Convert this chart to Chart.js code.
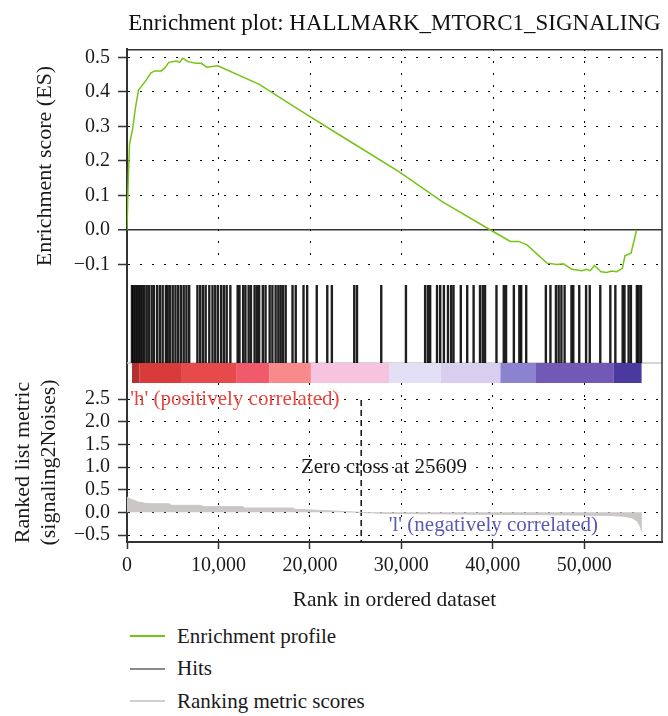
<!DOCTYPE html>
<html>
<head>
<meta charset="utf-8">
<title>Enrichment plot: HALLMARK_MTORC1_SIGNALING</title>
<script src="https://cdn.jsdelivr.net/npm/chart.js@4.4.1/dist/chart.umd.min.js"></script>
<style>
  body { margin: 0; background: #fff; }
  #plot { position: relative; width: 668px; height: 716px; overflow: hidden; }
  .panel { position: absolute; left: 0; }
  #esPanel { top: 0; }
  #hitsPanel { top: 283px; }
  #rankPanel { top: 343px; }
  #legend {
    position: absolute;
    left: 130px;
    top: 620px;
    font-family: "Liberation Serif", "Times New Roman", serif;
    font-size: 21px;
    color: #1a1a1a;
  }
  .legend-row { display: flex; align-items: center; height: 32.5px; }
  .legend-row .swatch { width: 35px; height: 2px; margin-right: 12px; }
</style>
</head>
<body>
<div id="plot">
  <div class="panel" id="esPanel"><canvas id="esChart" width="668" height="283"></canvas></div>
  <div class="panel" id="hitsPanel"><canvas id="hitsChart" width="668" height="100"></canvas></div>
  <div class="panel" id="rankPanel"><canvas id="rankChart" width="668" height="277"></canvas></div>
  <div id="legend"></div>
</div>
<script>
const rankTicks = [0, 10000, 20000, 30000, 40000, 50000]
const esTicks = [-0.1, 0, 0.1, 0.2, 0.3, 0.4, 0.5]
const metricTicks = [-0.5, 0, 0.5, 1, 1.5, 2, 2.5]

// running enrichment score along the ranked list
const esRanks = [0, 150, 280, 600, 900, 1250, 2115, 2600, 3020, 3750, 4110, 4580, 5390, 5750, 6110, 6650, 7570, 8110, 8720, 9920, 14470, 18830, 24000, 29730, 34460, 39740, 41920, 42830, 43740, 45920, 47010, 47730, 48640, 49730, 50280, 50640, 51110, 51840, 52450, 53000, 53540, 54170, 54450, 55110, 55730]
const esScores = [0, 0.16, 0.25, 0.29, 0.35, 0.405, 0.435, 0.455, 0.461, 0.461, 0.469, 0.486, 0.49, 0.486, 0.498, 0.488, 0.483, 0.483, 0.472, 0.476, 0.422, 0.348, 0.263, 0.169, 0.082, 0, -0.033, -0.033, -0.043, -0.096, -0.1, -0.098, -0.114, -0.118, -0.114, -0.118, -0.103, -0.121, -0.123, -0.119, -0.121, -0.111, -0.075, -0.067, 0]

// positions of gene set members in the ranked list
const hitRanks = [
  545, 700, 900, 1100, 1300, 1500, 1700, 1900,
  2150, 2400, 2700, 2950, 3300, 3600, 3900, 4250,
  4450, 4700, 5000, 5300, 5600, 5900, 6200, 6500, 6800,
  7700, 8000, 8300, 8600, 9000,
  9350, 9650, 9950, 10300, 10600, 10900, 11300,
  12100, 12300, 12700, 12950, 13300, 13550, 13950, 14200, 14450, 14850, 15150, 15600, 15900,
  16250, 16550, 16800, 17050, 17350, 18100, 18450, 19300, 19700, 20750, 21900, 22400, 24850, 25150, 27800,
  30500, 32600, 32900, 33150, 33900, 34250, 34650, 35100, 35450, 35700, 36500, 37200, 37900, 38600, 38900, 39150,
  40400, 41200, 41450, 42300, 42900, 43100, 43650, 45800, 46300, 46900, 47200, 47500, 47850, 48600, 48800,
  49450, 50200, 50600, 51750, 52850, 53400, 54200, 54400, 54850, 55100, 55750, 55950, 56200,
]

// heat band edges (rank)
const bandEdges = [545, 1385, 6000, 11930, 15560, 20110, 28650, 34300, 40830, 44650, 53180, 56270]

// ranked list metric (signal2noise)
const metricRanks = [0, 300, 700, 1200, 2000, 2600, 4600, 4700, 8100, 8200, 12700, 12800, 18200, 18300, 25609, 27800, 32000, 38000, 44000, 50000, 53000, 54500, 55300, 55800, 56100, 56300]
const metricScores = [0.34, 0.3, 0.27, 0.23, 0.2, 0.19, 0.19, 0.155, 0.155, 0.125, 0.125, 0.095, 0.095, 0.07, 0, -0.02, -0.03, -0.04, -0.05, -0.06, -0.07, -0.09, -0.13, -0.2, -0.3, -0.43]

const zeroCross = 25609

const SERIF = "'Liberation Serif', 'Times New Roman', serif"
const INK = "#1a1a1a"
const AXIS = "#333"
const DOT = "#000"
const GREEN = "#74c414"
const bandColors = ["#b3302e", "#d93a3a", "#e64a4a", "#f05a6a", "#f88a8c", "#f6c4df", "#e3dff5", "#d8cff0", "#8b83cf", "#7259b7", "#4a399f"]

const RANK_MAX = 58500
const ES_MIN = -0.1536
const ES_MAX = 0.5246
const METRIC_MIN = -0.654
const METRIC_MAX = 2.853
const HIT_Y = 0.59
const BAND_Y = 0.1
const BAND_TOP = 0.2
const ZERO_CROSS_TOP = 2.48

const notes = [
  { text: "'h' (positively correlated)", x: 350, y: 2.5, color: "#e5443f", align: "left" },
  { text: "Zero cross at 25609", x: 28100, y: 1.0, color: INK, align: "center" },
  { text: "'l' (negatively correlated)", x: 51500, y: -0.3, color: "#5a5ab4", align: "right" },
]

const legendEntries = [
  { label: "Enrichment profile", color: GREEN },
  { label: "Hits", color: "#8a8a8a" },
  { label: "Ranking metric scores", color: "#cfcfcf" },
]

Chart.defaults.font.family = SERIF
Chart.defaults.color = INK

const fmt = (v) => (v < 0 ? "\u2212" : "") + Math.abs(v).toFixed(1)
const dotted = [2, 10]

// right edge (and optional top edge) of each panel, the dotted rank grid of the
// ES panel, plus the thin line over the heat band
const framePlugin = {
  id: "frame",
  beforeDatasetsDraw(chart, args, opts) {
    const { ctx, chartArea: a } = chart
    ctx.save()
    if (opts.rankGrid) {
      const x = chart.scales.x
      const yEnd = chart.scales.y.getPixelForValue(opts.rankGrid)
      ctx.strokeStyle = DOT
      ctx.lineWidth = 1
      ctx.setLineDash(dotted)
      rankTicks.forEach((v) => {
        if (v === 0) return
        const px = Math.round(x.getPixelForValue(v)) + 0.5
        ctx.beginPath()
        ctx.moveTo(px, a.top)
        ctx.lineTo(px, yEnd)
        ctx.stroke()
      })
      ctx.setLineDash([])
    }
    if (opts.baseline !== undefined) {
      const y = chart.scales.y.getPixelForValue(opts.baseline)
      ctx.strokeStyle = "#c8c8c8"
      ctx.lineWidth = 1.5
      ctx.beginPath()
      ctx.moveTo(a.left, y)
      ctx.lineTo(a.right, y)
      ctx.stroke()
    }
    ctx.strokeStyle = AXIS
    ctx.lineWidth = 1.5
    ctx.beginPath()
    ctx.moveTo(a.right, a.top)
    ctx.lineTo(a.right, a.bottom)
    if (opts.top) {
      ctx.moveTo(a.left, a.top + 0.75)
      ctx.lineTo(a.right, a.top + 0.75)
    }
    ctx.stroke()
    ctx.restore()
  },
}

const notesPlugin = {
  id: "notes",
  afterDatasetsDraw(chart) {
    const { ctx, scales } = chart
    ctx.save()
    ctx.font = "21px " + SERIF
    ctx.textBaseline = "middle"
    notes.forEach((n) => {
      ctx.fillStyle = n.color
      ctx.textAlign = n.align
      ctx.fillText(n.text, scales.x.getPixelForValue(n.x), scales.y.getPixelForValue(n.y))
    })
    ctx.restore()
  },
}

const setRankTicks = (s) => {
  s.ticks = rankTicks.map((value) => ({ value }))
}

function fixLeftAxis(s) {
  s.width = 127
  s.paddingTop = 0
  s.paddingBottom = 0
}

function setupEsChart() {
  return new Chart(document.getElementById("esChart"), {
    type: "line",
    data: {
      datasets: [
        {
          label: "Enrichment profile",
          data: esRanks.map((x, i) => ({ x, y: esScores[i] })),
          borderColor: GREEN,
          borderWidth: 1.5,
          pointRadius: 0,
          tension: 0,
        },
      ],
    },
    options: {
      responsive: false,
      animation: false,
      layout: { autoPadding: false, padding: { right: 6 } },
      plugins: {
        legend: { display: false },
        tooltip: { enabled: false },
        title: {
          display: true,
          text: "Enrichment plot: HALLMARK_MTORC1_SIGNALING",
          fullSize: false,
          color: "#111",
          font: { size: 23, weight: "normal" },
          padding: { top: 10, bottom: 11.4 },
        },
        frame: { top: true, rankGrid: -0.1 },
      },
      scales: {
        x: {
          type: "linear",
          min: 0,
          max: RANK_MAX,
          ticks: { display: false },
          border: { display: false },
          grid: { display: false },
          afterFit: (s) => {
            s.height = 0
            s.paddingLeft = 0
            s.paddingRight = 0
          },
        },
        y: {
          min: ES_MIN,
          max: ES_MAX,
          afterBuildTicks: (s) => {
            s.ticks = esTicks.map((value) => ({ value }))
          },
          ticks: { callback: fmt, padding: 8, autoSkip: false, font: { size: 20 } },
          grid: {
            color: (c) => (c.tick && c.tick.value === 0 ? AXIS : DOT),
            lineWidth: (c) => (c.tick && c.tick.value === 0 ? 1.5 : 1),
            tickLength: 9,
            tickColor: AXIS,
            tickWidth: 1.5,
          },
          border: {
            color: AXIS,
            width: 2,
            dash: (c) => (c.tick && c.tick.value === 0 ? [] : dotted),
          },
          title: {
            display: true,
            text: "Enrichment score (ES)",
            font: { size: 22, lineHeight: 1.15 },
            padding: { top: 33, bottom: 0 },
          },
          afterFit: fixLeftAxis,
        },
      },
    },
    plugins: [framePlugin],
  })
}

function setupHitsChart() {
  return new Chart(document.getElementById("hitsChart"), {
    type: "scatter",
    data: {
      datasets: [
        {
          type: "line",
          label: "Ranked list heat",
          data: bandEdges.map((x) => ({ x, y: BAND_Y })),
          showLine: true,
          borderWidth: 20,
          borderCapStyle: "butt",
          borderColor: bandColors[0],
          segment: { borderColor: (c) => bandColors[c.p0DataIndex] },
          pointRadius: 0,
        },
        {
          label: "Hits",
          data: hitRanks.map((x) => ({ x, y: HIT_Y })),
          pointStyle: "line",
          pointRotation: 90,
          pointRadius: 39,
          pointBorderWidth: 2.4,
          pointBorderColor: "rgba(0, 0, 0, 0.88)",
        },
      ],
    },
    options: {
      responsive: false,
      animation: false,
      layout: { autoPadding: false, padding: { right: 6 } },
      plugins: {
        legend: { display: false },
        tooltip: { enabled: false },
        frame: { baseline: BAND_TOP },
      },
      scales: {
        x: { type: "linear", min: 0, max: RANK_MAX, display: false },
        y: {
          min: 0,
          max: 1,
          ticks: { display: false },
          grid: { display: false },
          border: { color: AXIS, width: 2 },
          afterFit: fixLeftAxis,
        },
      },
    },
    plugins: [framePlugin],
  })
}

function setupRankChart() {
  return new Chart(document.getElementById("rankChart"), {
    type: "line",
    data: {
      datasets: [
        {
          label: "Ranking metric scores",
          data: metricRanks.map((x, i) => ({ x, y: metricScores[i] })),
          borderColor: "#cbc7c7",
          backgroundColor: "#cbc7c7",
          borderWidth: 1,
          fill: "origin",
          pointRadius: 0,
          tension: 0,
        },
        {
          label: "Zero cross",
          data: [
            { x: zeroCross, y: ZERO_CROSS_TOP },
            { x: zeroCross, y: METRIC_MIN },
          ],
          borderColor: "#111",
          borderWidth: 1.5,
          borderDash: [6, 4],
          pointRadius: 0,
        },
      ],
    },
    options: {
      responsive: false,
      animation: false,
      // the canvas starts 40px above the panel so the two-line axis title has room
      layout: { autoPadding: false, padding: { top: 40, right: 6 } },
      plugins: {
        legend: { display: false },
        tooltip: { enabled: false },
        frame: {},
      },
      scales: {
        x: {
          type: "linear",
          min: 0,
          max: RANK_MAX,
          afterBuildTicks: setRankTicks,
          ticks: {
            callback: (v) => v.toLocaleString("en-US"),
            padding: 5,
            maxRotation: 0,
            autoSkip: false,
            font: { size: 20 },
          },
          grid: {
            color: DOT,
            tickLength: 7,
            tickColor: AXIS,
            tickWidth: 1.5,
          },
          border: { color: AXIS, width: 2, dash: dotted },
          title: {
            display: true,
            text: "Rank in ordered dataset",
            font: { size: 21.5 },
            padding: { top: 0, bottom: 7 },
          },
          afterFit: (s) => {
            s.height = 78
            s.paddingLeft = 0
            s.paddingRight = 0
          },
        },
        y: {
          min: METRIC_MIN,
          max: METRIC_MAX,
          afterBuildTicks: (s) => {
            s.ticks = metricTicks.map((value) => ({ value }))
          },
          ticks: { callback: fmt, padding: 8, autoSkip: false, font: { size: 20 } },
          grid: {
            color: DOT,
            tickLength: 9,
            tickColor: AXIS,
            tickWidth: 1.5,
          },
          border: { color: AXIS, width: 2, dash: dotted },
          title: {
            display: true,
            text: ["Ranked list metric", "(signaling2Noises)"],
            font: { size: 22, lineHeight: 1.15 },
            padding: { top: 11, bottom: 0 },
          },
          afterFit: fixLeftAxis,
        },
      },
    },
    plugins: [framePlugin, notesPlugin],
  })
}

function buildLegend() {
  const box = document.getElementById("legend")
  legendEntries.forEach((entry) => {
    const row = document.createElement("div")
    row.className = "legend-row"
    const swatch = document.createElement("span")
    swatch.className = "swatch"
    swatch.style.background = entry.color
    const text = document.createElement("span")
    text.textContent = entry.label
    row.appendChild(swatch)
    row.appendChild(text)
    box.appendChild(row)
  })
}

setupEsChart()
setupHitsChart()
setupRankChart()
buildLegend()
</script>
</body>
</html>
